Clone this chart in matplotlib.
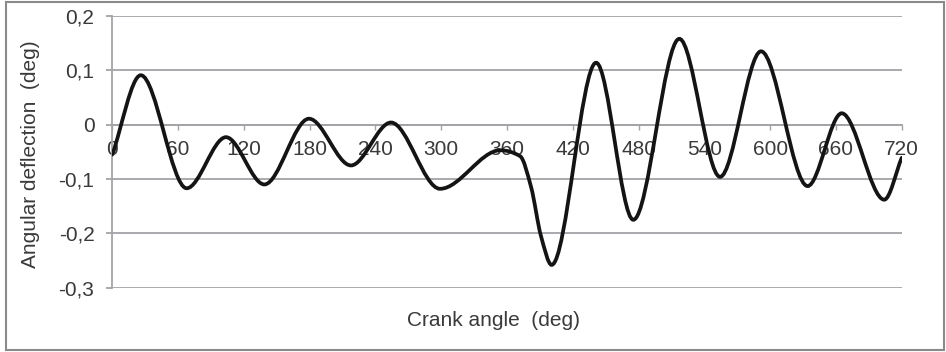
import numpy as np
import matplotlib.pyplot as plt
from matplotlib.path import Path
from matplotlib.patches import PathPatch, Rectangle

plt.rcParams['font.family'] = ['Liberation Sans', 'DejaVu Sans']

# crank angle (deg) and angular deflection (deg) read at turning points
crank_angle = [0, 26, 67.8, 103.7, 138.7, 179.4, 217.7, 254.2, 298.9,
               354, 372, 382, 391, 400.7, 441.3, 475.2,
               517.2, 554.3, 591.7, 634.2, 665.3, 704.1, 720]
deflection = [-0.055, 0.091, -0.117, -0.023, -0.110, 0.011, -0.075, 0.004,
              -0.118, -0.047, -0.058, -0.115, -0.205,
              -0.258, 0.114, -0.175, 0.158, -0.096, 0.135, -0.113, 0.021,
              -0.138, -0.061]

x_ticks = [0, 60, 120, 180, 240, 300, 360, 420, 480, 540, 600, 660, 720]
y_ticks = [-0.3, -0.2, -0.1, 0, 0.1, 0.2]
y_tick_labels = ['-0,3', '-0,2', '-0,1', '0', '0,1', '0,2']

grid_col = '#a3a3a8'
text_col = '#3a3a3a'


def smooth_path(x, y):
    # monotone cubic (Fritsch-Carlson) tangents, drawn as bezier segments
    x = np.asarray(x, float)
    y = np.asarray(y, float)
    h = np.diff(x)
    d = np.diff(y) / h
    m = np.zeros_like(y)
    for i in range(1, len(x) - 1):
        if d[i - 1] * d[i] > 0:
            w1 = 2 * h[i] + h[i - 1]
            w2 = h[i] + 2 * h[i - 1]
            m[i] = (w1 + w2) / (w1 / d[i - 1] + w2 / d[i])
    m[0] = d[0]
    m[-1] = d[-1]
    verts = [(x[0], y[0])]
    codes = [Path.MOVETO]
    for i in range(len(x) - 1):
        verts += [(x[i] + h[i] / 3, y[i] + m[i] * h[i] / 3),
                  (x[i + 1] - h[i] / 3, y[i + 1] - m[i + 1] * h[i] / 3),
                  (x[i + 1], y[i + 1])]
        codes += [Path.CURVE4] * 3
    return Path(verts, codes)


fig = plt.figure(figsize=(9.46, 3.52), dpi=100)
ax = fig.add_axes([112.3 / 946, 1 - 287.7 / 352, 789.4 / 946, 271.7 / 352])

ax.set_xlim(0, 720)
ax.set_ylim(-0.3, 0.2)
ax.set_axisbelow(True)

ax.add_patch(PathPatch(smooth_path(crank_angle, deflection), fill=False,
                       ec='#141414', lw=2.7, capstyle='round', zorder=3))

ax.set_yticks(y_ticks)
ax.set_yticklabels(y_tick_labels)
ax.set_xticks(x_ticks)
ax.grid(axis='y', color=grid_col, lw=1.3)

for s in ['top', 'right']:
    ax.spines[s].set_visible(False)
ax.spines['left'].set_color(grid_col)
ax.spines['left'].set_linewidth(1.3)
ax.spines['bottom'].set_position(('data', 0))
ax.spines['bottom'].set_color(grid_col)
ax.spines['bottom'].set_linewidth(1.3)

ax.tick_params(axis='y', direction='out', length=4.3, width=1.3,
               color=grid_col, pad=8.6, labelsize=15, labelcolor=text_col)
ax.tick_params(axis='x', direction='out', length=3.6, width=1.0,
               color=grid_col, pad=7.5, labelsize=15, labelcolor=text_col)

ax.set_xlabel('Crank angle  (deg)', fontsize=15, color=text_col, va='center')
ax.xaxis.set_label_coords(0.4835, -0.119)
ax.set_ylabel('Angular deflection  (deg)', fontsize=15, color=text_col,
              va='center')
ax.yaxis.set_label_coords(-0.103, 0.49)

# chart area border
fig.patches.append(Rectangle((6 / 946, 2 / 352), 938 / 946, 348 / 352,
                             transform=fig.transFigure, fill=False,
                             ec='#8a8a8a', lw=1.5))

fig.savefig('out.png', dpi=100)
